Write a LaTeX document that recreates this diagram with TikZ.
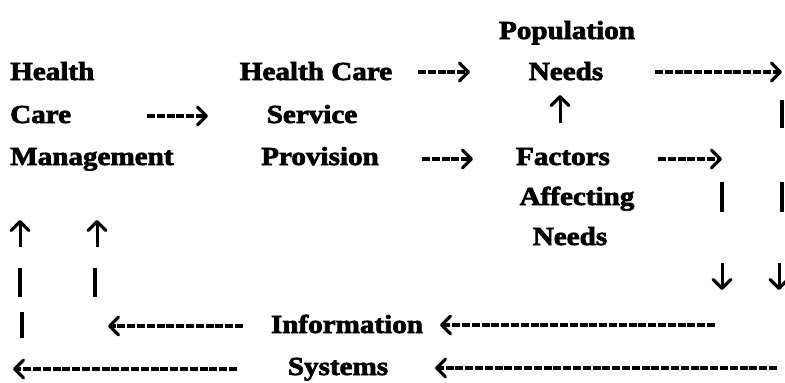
\documentclass[tikz,border=0pt]{standalone}
\usepackage{fontspec}
\setmainfont{Liberation Serif}
\newfontfamily\heavyfont{Liberation Serif Bold}[FakeBold=2.5]
\usetikzlibrary{arrows.meta}
\newcommand\stretchtxt[1]{\scalebox{1.12}[1]{#1}}
\tikzset{
  lbl/.style={font=\fontsize{26}{30}\selectfont\heavyfont, inner sep=0pt, anchor=base},
  lblw/.style={lbl, anchor=base west},
  headtip/.tip={Straight Barb[length=9pt,width=18pt,line width=3.2pt,round]},
  harr/.style={line width=3.4pt, dash pattern=on 8pt off 1.8pt, -headtip},
  varr/.style={line width=3pt, -headtip},
  vbar/.style={line width=3.4pt}
}
\begin{document}
\begin{tikzpicture}[x=1pt,y=-1pt]
\useasboundingbox (0,0) rectangle (785,383);
% texts
\node[lblw] (hlth) at (10,80) {\stretchtxt{Health}};
\node[lblw] (care) at (10,123) {\stretchtxt{Care}};
\node[lblw] (mgmt) at (10,165) {\stretchtxt{Management}};
\node[lbl] (hc) at (316,80) {\stretchtxt{Health Care}};
\node[lbl] (serv) at (312,123) {\stretchtxt{Service}};
\node[lbl] (prov) at (320,165) {\stretchtxt{Provision}};
\node[lbl] (pop) at (567,39) {\stretchtxt{Population}};
\node[lbl] (needs) at (566,80) {\stretchtxt{Needs}};
\node[lbl] (fact) at (563,165) {\stretchtxt{Factors}};
\node[lbl] (affect) at (577,205) {\stretchtxt{Affecting}};
\node[lbl] (needsb) at (570,245) {\stretchtxt{Needs}};
\node[lbl] (info) at (347,333) {\stretchtxt{Information}};
\node[lbl] (sys) at (338,375) {\stretchtxt{Systems}};
% connector end points
\coordinate (a1s) at (147,116); \coordinate (a1e) at (208,116);
\coordinate (a2s) at (418,72);  \coordinate (a2e) at (470,72);
\coordinate (a3s) at (422,159); \coordinate (a3e) at (473,159);
\coordinate (a4s) at (655,72);  \coordinate (a4e) at (782,72);
\coordinate (a5s) at (658,159); \coordinate (a5e) at (722,159);
\coordinate (upS) at (560,123); \coordinate (upE) at (560,95);
\coordinate (r1s) at (782,100); \coordinate (r1e) at (782,128);
\coordinate (r2s) at (782,182); \coordinate (r2e) at (782,212);
\coordinate (r3s) at (779,263); \coordinate (r3e) at (779,290);
\coordinate (m1s) at (722,182); \coordinate (m1e) at (722,212);
\coordinate (m2s) at (722,263); \coordinate (m2e) at (722,290);
\coordinate (i1s) at (715,325); \coordinate (i1e) at (440,325);
\coordinate (i2s) at (243,326); \coordinate (i2e) at (108,326);
\coordinate (s1s) at (777,368); \coordinate (s1e) at (435,368);
\coordinate (s2s) at (237,369); \coordinate (s2e) at (13,369);
\coordinate (l1s) at (20,247);  \coordinate (l1e) at (20,220);
\coordinate (l2s) at (97,247);  \coordinate (l2e) at (97,220);
\coordinate (l3s) at (20,268);  \coordinate (l3e) at (20,297);
\coordinate (l4s) at (95,268);  \coordinate (l4e) at (95,297);
\coordinate (l5s) at (22,312);  \coordinate (l5e) at (22,338);
% horizontal arrows
\draw[harr] (a1s) -- (a1e);
\draw[harr] (a2s) -- (a2e);
\draw[harr] (a3s) -- (a3e);
\draw[harr] (a4s) -- (a4e);
\draw[harr] (a5s) -- (a5e);
\draw[harr] (i1s) -- (i1e);
\draw[harr] (i2s) -- (i2e);
\draw[harr] (s1s) -- (s1e);
\draw[harr] (s2s) -- (s2e);
% vertical arrows and bars
\draw[varr] (upS) -- (upE);
\draw[vbar] (r1s) -- (r1e);
\draw[vbar] (r2s) -- (r2e);
\draw[varr] (r3s) -- (r3e);
\draw[vbar] (m1s) -- (m1e);
\draw[varr] (m2s) -- (m2e);
\draw[varr] (l1s) -- (l1e);
\draw[varr] (l2s) -- (l2e);
\draw[vbar] (l3s) -- (l3e);
\draw[vbar] (l4s) -- (l4e);
\draw[vbar] (l5s) -- (l5e);
\end{tikzpicture}
\end{document}
